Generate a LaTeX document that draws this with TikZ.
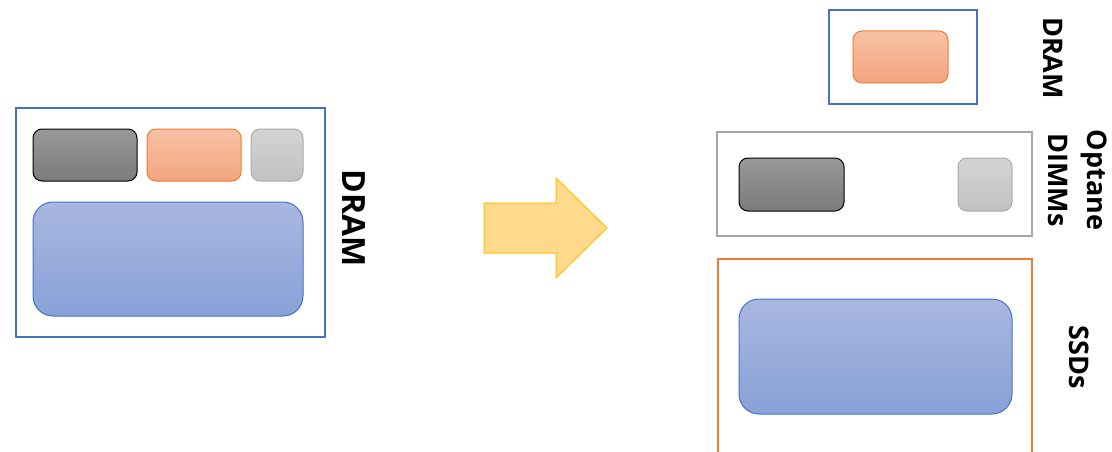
\documentclass[tikz,border=0pt]{standalone}
\usepackage{fontspec}
\setmainfont{Open Sans}
\definecolor{bblue}{HTML}{4472C4}
\definecolor{borange}{HTML}{ED7D31}
\definecolor{bgray}{HTML}{A5A5A5}
\definecolor{arrowfill}{HTML}{FFD98C}
\definecolor{arrowline}{HTML}{FFC000}
\tikzset{
  box/.style={draw, line width=2pt, inner sep=0pt},
  chip/.style={draw, line width=1pt, rounded corners=9pt, inner sep=0pt},
  darkchip/.style={chip, draw=black, top color=black!40, bottom color=black!52},
  orangechip/.style={chip, draw=borange, top color={rgb,255:red,247;green,194;blue,166}, bottom color={rgb,255:red,244;green,164;blue,127}},
  lightchip/.style={chip, draw=black!33, top color=black!17, bottom color=black!24},
  bluechip/.style={chip, rounded corners=20pt, draw=bblue, top color={rgb,255:red,169;green,183;blue,224}, bottom color={rgb,255:red,136;green,161;blue,215}},
  lbl/.style={font=\bfseries\fontsize{32}{34}\selectfont, rotate=-90, align=center, inner sep=0pt},
}
\begin{document}
\begin{tikzpicture}[x=1pt,y=-1pt]
\useasboundingbox (0,0) rectangle (1112,452);
% left
\node[box, draw=bblue, minimum width=309pt, minimum height=229pt] (lbox) at (170.5,222.5) {};
\node[darkchip, minimum width=104pt, minimum height=52pt] (ldark) at (85,155) {};
\node[orangechip, minimum width=94pt, minimum height=52pt] (lorange) at (194,155) {};
\node[lightchip, minimum width=52pt, minimum height=52pt] (llight) at (277,155) {};
\node[bluechip, minimum width=270pt, minimum height=114pt] (lblue) at (168,259) {};
\node[lbl] (ldram) at (354,218) {DRAM};
% arrow
\draw[arrowline, fill=arrowfill, line width=1pt] (484,203) -- (556,203) -- (556,178) -- (607,228) -- (556,278) -- (556,253) -- (484,253) -- cycle;
% right DRAM
\node[box, draw=bblue, minimum width=148pt, minimum height=94pt] (rdbox) at (903,57) {};
\node[orangechip, minimum width=95pt, minimum height=52pt] (rorange) at (900.5,57) {};
\node[lbl, font=\bfseries\fontsize{27}{29}\selectfont] (rdram) at (1053,58) {DRAM};
% optane
\node[box, draw=bgray, minimum width=315pt, minimum height=104pt] (obox) at (874.5,184) {};
\node[darkchip, minimum width=105pt, minimum height=53pt] (odark) at (791.5,184.5) {};
\node[lightchip, minimum width=54pt, minimum height=53pt] (olight) at (985,184.5) {};
\node[lbl, font=\bfseries\fontsize{27}{39}\selectfont] (olbl) at (1077.5,180) {Optane\\DIMMs};
% SSD
\draw[borange, line width=2pt] (718,460) -- (718,259) -- (1032,259) -- (1032,460);
\node[bluechip, minimum width=273pt, minimum height=115pt] (sblue) at (875.5,356.5) {};
\node[lbl, font=\bfseries\fontsize{27}{29}\selectfont] (slbl) at (1079,357) {SSDs};
\end{tikzpicture}
\end{document}
